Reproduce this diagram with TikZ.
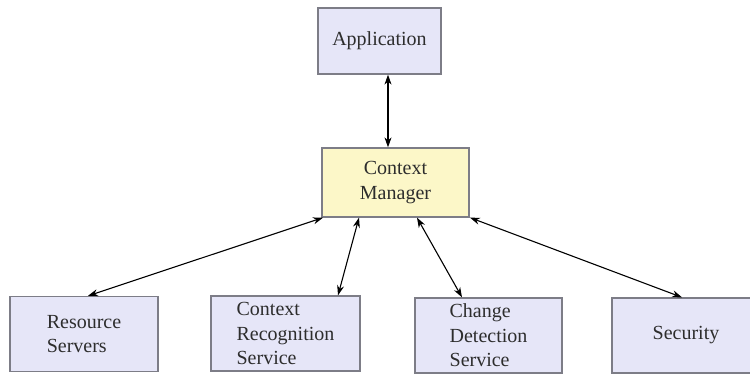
\documentclass[tikz,border=0pt]{standalone}
\usepackage{fontspec}
\setmainfont{Liberation Serif}
\newfontfamily\boxserif{Liberation Serif}
\usetikzlibrary{arrows.meta}
\definecolor{boxfill}{RGB}{230,230,248}
\definecolor{cmfill}{RGB}{252,247,200}
\definecolor{boxline}{RGB}{125,125,135}
\definecolor{txt}{RGB}{45,45,45}
\begin{document}
\begin{tikzpicture}[x=1pt,y=1pt,
  box/.style={draw=boxline, line width=1.3pt, fill=boxfill, minimum width=148pt, minimum height=75pt,
    inner sep=0pt, align=left, text=txt, font=\boxserif\fontsize{20}{24.5}\selectfont},
  link/.style={black, line width=1.1pt, {Stealth[length=10pt,width=7pt]}-{Stealth[length=10pt,width=7pt]}}]
\clip (0,0) rectangle (750,375);
\fill[white] (0,0) rectangle (750,375);
\node[box, minimum width=123pt, minimum height=66pt] (app) at (379.5,334) {Application};
\node[box, fill=cmfill, minimum width=147pt, minimum height=69pt, align=center] (cm) at (395.5,192.5) {Context\\Manager};
\node[box] (rs) at (84,41) {Resource\\Servers};
\node[box, minimum width=149pt] (crs) at (285.5,41.5) {Context\\Recognition\\Service};
\node[box, minimum width=147pt] (cds) at (488.5,39.5) {Change\\Detection\\Service};
\node[box] (sec) at (686,39.5) {Security};
\draw[link] ([xshift=8.5pt]app.south) -- ([xshift=-7.5pt]cm.north);
\draw[link] ([xshift=-72.5pt]cm.south) -- ([xshift=4pt]rs.north);
\draw[link] ([xshift=-36.5pt]cm.south) -- ([xshift=52.5pt]crs.north);
\draw[link] ([xshift=21.5pt]cm.south) -- ([xshift=-26.5pt]cds.north);
\draw[link] ([xshift=74.5pt]cm.south) -- ([xshift=-4pt]sec.north);
\end{tikzpicture}
\end{document}
